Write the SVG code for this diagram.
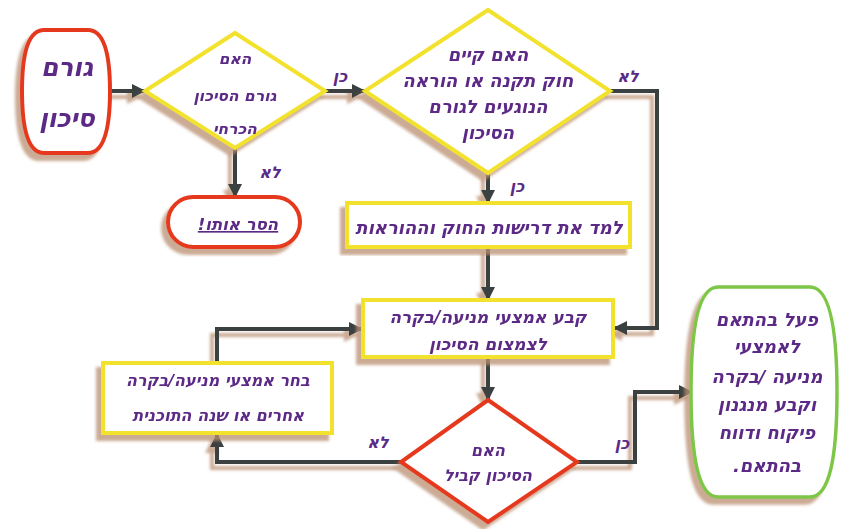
<svg xmlns="http://www.w3.org/2000/svg" width="841" height="529" viewBox="0 0 841 529">
<style>
.t{font-family:"DejaVu Sans","Liberation Sans",sans-serif;font-weight:bold;font-style:italic;fill:#5b2a86;text-anchor:middle;direction:rtl}
.red{fill:#fff;stroke:#e5391f;stroke-width:4}
.yel{fill:#fff;stroke:#f2e22e;stroke-width:4}
.grn{fill:#fff;stroke:#7dc646;stroke-width:3.5}
.c{fill:none;stroke:#3a4141;stroke-width:4;stroke-linejoin:miter}
.arr{marker-end:url(#ah)}
</style>
<defs>
<filter id="sh" x="-20%" y="-20%" width="140%" height="140%">
<feDropShadow dx="-5" dy="6" stdDeviation="1.8" flood-color="#b98e70" flood-opacity="0.75"/>
</filter>
<marker id="ah" markerUnits="userSpaceOnUse" markerWidth="16" markerHeight="16" refX="13" refY="7" orient="auto">
<path d="M0,0 L14,7 L0,14 Z" fill="#3a4141"/>
</marker>
</defs>
<rect width="841" height="529" fill="#fff"/>

<g id="connectors" filter="url(#sh)">
<path class="c arr" d="M110,91 H145"/>
<path class="c arr" d="M325,91 H365"/>
<path class="c arr" d="M235,148 V197"/>
<path class="c arr" d="M488,173 V203"/>
<path class="c arr" d="M610,91 H657 V328 H614"/>
<path class="c arr" d="M488,247 V300"/>
<path class="c arr" d="M488,357 V400"/>
<path class="c arr" d="M401,462 H217 V434"/>
<path class="c arr" d="M217,363 V329 H362"/>
<path class="c arr" d="M577,462 H635 V392 H692"/>
</g>
<g id="labels">
<text class="t" x="340" y="82" font-size="16">כן</text>
<text class="t" x="270" y="178" font-size="16">לא</text>
<text class="t" x="517" y="192" font-size="16">כן</text>
<text class="t" x="628" y="82" font-size="16">לא</text>
<text class="t" x="378" y="448" font-size="16">לא</text>
<text class="t" x="622" y="449" font-size="16">כן</text>
</g>

<g id="start" filter="url(#sh)">
<path class="red" d="M44,30 H88 C104,30 110,55 110,91 C110,128 104,153 88,153 H44 C28,153 22,128 22,91 C22,55 28,30 44,30 Z"/>
<text class="t" x="67" y="76" font-size="25">גורם</text>
<text class="t" x="67" y="127" font-size="25">סיכון</text>
</g>

<g id="d1" filter="url(#sh)">
<polygon class="yel" points="235,33 325,91 235,148 145,91"/>
<text class="t" x="235" y="64" font-size="15.5">האם</text>
<text class="t" x="235" y="101" font-size="15.5">גורם הסיכון</text>
<text class="t" x="235" y="134" font-size="15.5">הכרחי</text>
</g>

<g id="remove" filter="url(#sh)">
<rect class="red" x="168" y="197" width="132" height="50" rx="25"/>
<text class="t" x="238" y="230" font-size="16.5" text-decoration="underline">הסר אותו!</text>
</g>

<g id="d2" filter="url(#sh)">
<polygon class="yel" points="488,10 610,91 488,173 365,91"/>
<text class="t" x="488" y="61" font-size="18">האם קיים</text>
<text class="t" x="488" y="87" font-size="18">חוק תקנה או הוראה</text>
<text class="t" x="488" y="113" font-size="18">הנוגעים לגורם</text>
<text class="t" x="488" y="139" font-size="18">הסיכון</text>
</g>

<g id="learn" filter="url(#sh)">
<rect class="yel" x="347" y="203" width="283" height="44"/>
<text class="t" x="489" y="234" font-size="18">למד את דרישות החוק וההוראות</text>
</g>

<g id="set" filter="url(#sh)">
<rect class="yel" x="363" y="300" width="250" height="57"/>
<text class="t" x="488" y="323" font-size="17">קבע אמצעי מניעה/בקרה</text>
<text class="t" x="488" y="350" font-size="17">לצמצום הסיכון</text>
</g>

<g id="choose" filter="url(#sh)">
<rect class="yel" x="103" y="363" width="229" height="70"/>
<text class="t" x="218" y="386" font-size="16">בחר אמצעי מניעה/בקרה</text>
<text class="t" x="218" y="421" font-size="16">אחרים או שנה התוכנית</text>
</g>

<g id="d3" filter="url(#sh)">
<polygon class="red" points="488,400 577,462 488,522 401,462"/>
<text class="t" x="488" y="456" font-size="16">האם</text>
<text class="t" x="488" y="481" font-size="16">הסיכון קביל</text>
</g>

<g id="act" filter="url(#sh)">
<path class="grn" d="M718,287 H810 C830,287 837,330 837,392 C837,455 830,497 810,497 H718 C698,497 691,455 691,392 C691,330 698,287 718,287 Z"/>
<text class="t" x="767" y="326" font-size="18">פעל בהתאם</text>
<text class="t" x="767" y="353" font-size="18">לאמצעי</text>
<text class="t" x="767" y="383" font-size="18">מניעה /בקרה</text>
<text class="t" x="767" y="411" font-size="18">וקבע מנגנון</text>
<text class="t" x="767" y="439" font-size="18">פיקוח ודווח</text>
<text class="t" x="767" y="472" font-size="18">בהתאם.</text>
</g>
</svg>
